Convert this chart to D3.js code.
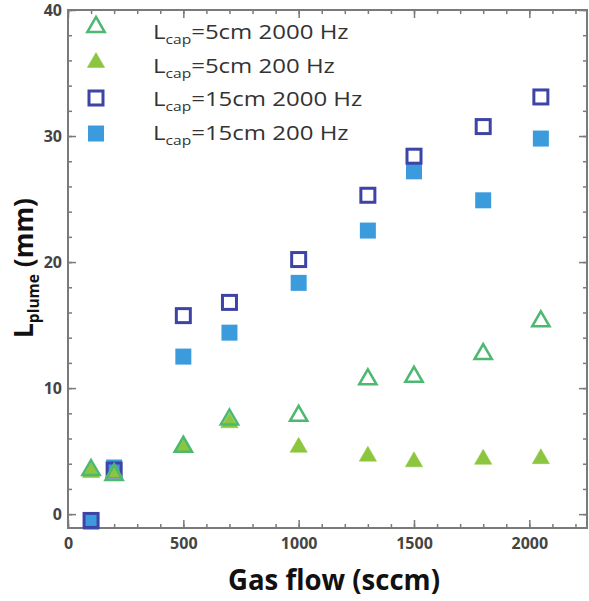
<!DOCTYPE html>
<html>
<head>
<meta charset="utf-8">
<script src="https://cdn.jsdelivr.net/npm/d3@7"></script>
<style>
  body { margin: 0; background: #fff; }
  svg { display: block; }
  .tick text { font-family: "Open Sans", sans-serif; font-weight: bold; fill: #444; }
</style>
</head>
<body>
<div id="chart"></div>
<script>
// gas flow (sccm)
var flow = [100, 200, 500, 700, 1000, 1300, 1500, 1800, 2050];
// plume length (mm)
var cap5_2000 = [3.5, 3.1, 5.35, 7.5, 7.8, 10.7, 10.9, 12.7, 15.3];
var cap5_200 = [3.3, 3.3, 5.35, 7.25, 5.3, 4.6, 4.15, 4.35, 4.4];
var cap15_2000 = [-0.5, 3.5, 15.75, 16.8, 20.2, 25.3, 28.4, 30.75, 33.1];
var cap15_200 = [-0.6, 3.7, 12.5, 14.4, 18.35, 22.5, 27.2, 24.9, 29.8];
var xTicks = [0, 500, 1000, 1500, 2000];
var yTicks = [0, 10, 20, 30, 40];

var series = [
	{ size: "5cm", freq: "2000 Hz", values: cap5_2000, shape: "triangle", open: true, color: "#4cb870" },
	{ size: "5cm", freq: "200 Hz", values: cap5_200, shape: "triangle", open: false, color: "#8cc63f" },
	{ size: "15cm", freq: "2000 Hz", values: cap15_2000, shape: "square", open: true, color: "#3d44a6" },
	{ size: "15cm", freq: "200 Hz", values: cap15_200, shape: "square", open: false, color: "#3c9bdc" }
];

var W = 589, H = 601;
var pl = 68, pr = 587, pt = 10, pb = 528;

var x = d3.scaleLinear().domain([0, 2250]).range([pl, pr]);
var y = d3.scaleLinear().domain([-1.1, 40]).range([pb, pt]);

var svg = d3.select("#chart").append("svg").attr("width", W).attr("height", H);

var frameColor = "#7a7a7a";

function styleAxis(g)
{
	g.select(".domain").remove();
	g.selectAll(".tick line").attr("stroke", frameColor).attr("stroke-width", 1.5);
}

// minor ticks
var xMinor = d3.range(0, 2250, 100);
var yMinor = d3.range(0, 41, 2);

svg.append("g").attr("transform", "translate(0," + pb + ")")
	.call(d3.axisBottom(x).tickValues(xMinor).tickSize(-4).tickFormat(""))
	.call(styleAxis);
svg.append("g").attr("transform", "translate(0," + pt + ")")
	.call(d3.axisTop(x).tickValues(xMinor).tickSize(-4).tickFormat(""))
	.call(styleAxis);
svg.append("g").attr("transform", "translate(" + pl + ",0)")
	.call(d3.axisLeft(y).tickValues(yMinor).tickSize(-4).tickFormat(""))
	.call(styleAxis);
svg.append("g").attr("transform", "translate(" + pr + ",0)")
	.call(d3.axisRight(y).tickValues(yMinor).tickSize(-4).tickFormat(""))
	.call(styleAxis);

// major ticks with labels
var gx = svg.append("g").attr("transform", "translate(0," + pb + ")")
	.call(d3.axisBottom(x).tickValues(xTicks).tickSize(-8).tickPadding(10).tickFormat(d3.format("d")))
	.call(styleAxis);
gx.selectAll(".tick text").attr("font-size", 16);

var gy = svg.append("g").attr("transform", "translate(" + pl + ",0)")
	.call(d3.axisLeft(y).tickValues(yTicks).tickSize(-8).tickPadding(6))
	.call(styleAxis);
gy.selectAll(".tick text").attr("font-size", 16);

svg.append("g").attr("transform", "translate(0," + pt + ")")
	.call(d3.axisTop(x).tickValues(xTicks).tickSize(-8).tickFormat(""))
	.call(styleAxis);
svg.append("g").attr("transform", "translate(" + pr + ",0)")
	.call(d3.axisRight(y).tickValues(yTicks).tickSize(-8).tickFormat(""))
	.call(styleAxis);

// frame
svg.append("rect")
	.attr("x", pl).attr("y", pt)
	.attr("width", pr - pl).attr("height", pb - pt)
	.attr("fill", "none").attr("stroke", frameColor).attr("stroke-width", 2);

// markers
var tri = d3.symbol().type(d3.symbolTriangle).size(130);

function drawMarker(node, s)
{
	if (s.shape === "triangle")
	{
		node.append("path")
			.attr("d", tri())
			.attr("fill", s.open ? "none" : s.color)
			.attr("stroke", s.color)
			.attr("stroke-width", s.open ? 2.5 : 0.5)
			.attr("stroke-linejoin", "miter");
	}
	else
	{
		var a = s.open ? 14 : 16;
		node.append("rect")
			.attr("x", -a / 2).attr("y", -a / 2)
			.attr("width", a).attr("height", a)
			.attr("fill", s.open ? "none" : s.color)
			.attr("stroke", s.open ? s.color : "none")
			.attr("stroke-width", 3);
	}
}

// draw filled first, open on top
var order = [3, 2, 1, 0];
order.forEach(function (i)
{
	var s = series[i];
	svg.append("g").selectAll("g")
		.data(flow.map(function (f, k) { return [f, s.values[k]]; }))
		.join("g")
		.attr("transform", function (d) { return "translate(" + x(d[0]) + "," + y(d[1]) + ")"; })
		.each(function () { drawMarker(d3.select(this), s); });
});

// legend (the original font is wide, so stretch the text a little)
var legend = svg.append("g");
series.forEach(function (s, i)
{
	var m = legend.append("g").attr("transform", "translate(96," + (27 + i * 35.5) + ")");
	drawMarker(m, s);
	var t = legend.append("text")
		.attr("transform", "translate(153," + (39 + i * 33.5) + ") scale(1.2,1)")
		.attr("font-family", "'Open Sans', sans-serif")
		.attr("font-size", 20)
		.attr("fill", "#333");
	t.append("tspan").text("L");
	t.append("tspan").attr("font-size", 13).attr("dy", 5).text("cap");
	t.append("tspan").attr("dy", -5).text("=" + s.size + " " + s.freq);
});

// axis titles
var xl = svg.append("text")
	.attr("x", 334).attr("y", 590)
	.attr("text-anchor", "middle")
	.attr("font-family", "'Open Sans', sans-serif")
	.attr("font-weight", "bold")
	.attr("font-size", 29)
	.attr("fill", "#111")
	.attr("textLength", 212)
	.attr("lengthAdjust", "spacingAndGlyphs")
	.text("Gas flow (sccm)");

var ylg = svg.append("g").attr("transform", "translate(33,268) rotate(-90)");
var yl = ylg.append("text")
	.attr("text-anchor", "middle")
	.attr("font-family", "'Open Sans', sans-serif")
	.attr("font-weight", "bold")
	.attr("font-size", 27)
	.attr("fill", "#111");
yl.append("tspan").text("L");
yl.append("tspan").attr("font-size", 16).attr("dy", 6).text("plume");
yl.append("tspan").attr("dy", -6).text(" (mm)");
var ylen = yl.node().getComputedTextLength();
yl.attr("transform", "scale(" + (140 / ylen) + ",1)");
</script>
</body>
</html>
